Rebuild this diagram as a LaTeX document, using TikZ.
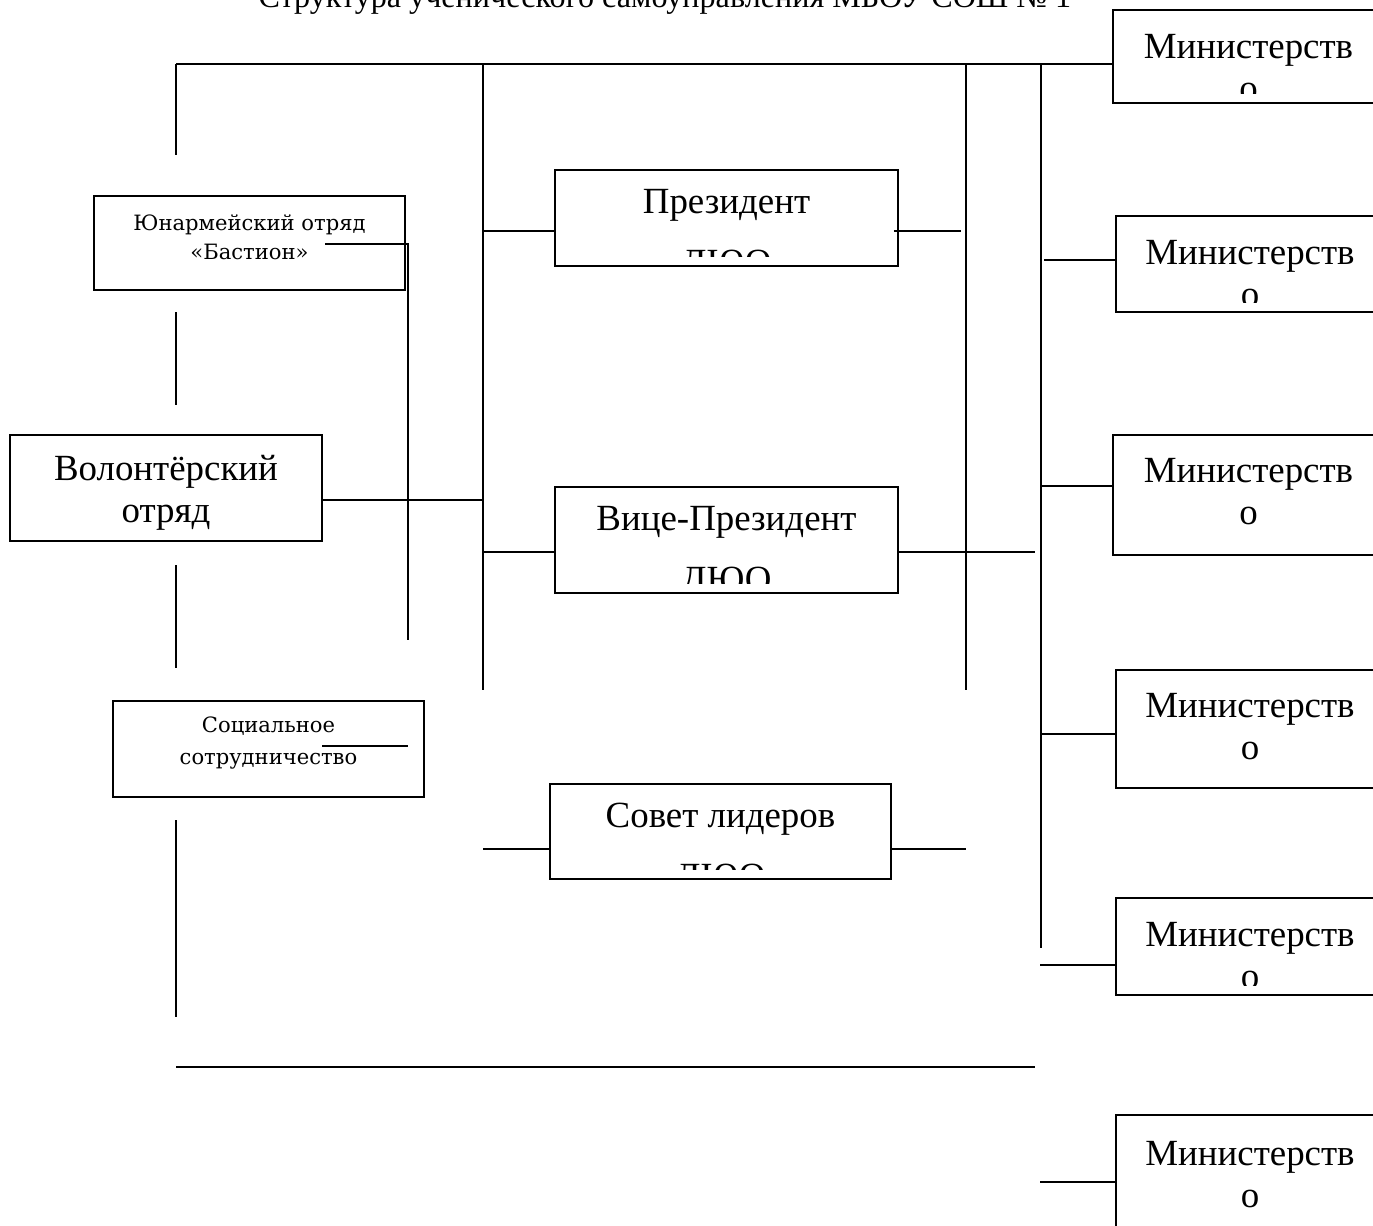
\documentclass[tikz,border=0pt]{standalone}
\usepackage{fontspec}
\setmainfont{Liberation Serif}
\newfontfamily\slabfont{DejaVu Serif}
\usetikzlibrary{positioning,calc}

\begin{document}
\begin{tikzpicture}[x=0.02cm,y=-0.02cm,line width=1pt,
    orgbox/.style={draw,rectangle,inner sep=0pt,line width=1.1pt},
    cliptext/.style n args={4}{path picture={
        \clip ([yshift=0.2cm]path picture bounding box.south west) rectangle (path picture bounding box.north east);
        \node[anchor=north,align=center,inner sep=0pt,draw=none,minimum width=0pt,minimum height=0pt,
              font={\fontsize{21}{#2}\selectfont}] (#3)
            at ([yshift=-#4]path picture bounding box.north) {#1};}}]
    \clip (0,0) rectangle (1373,1225);

    % Title (cut at the top)
    \node[anchor=base,font={\fontsize{18.3}{22}\selectfont}] (title) at (665,7)
        {Структура ученического самоуправления МБОУ СОШ № 1};

    % Left column
    \node[orgbox,minimum width=6.22cm,minimum height=1.88cm] (yun) at (249.5,243) {};
    \node[align=center,font={\slabfont\fontsize{12}{16.5}\selectfont}] (yuntxt) at (249.5,237)
        {Юнармейский отряд\\«Бастион»};
    \node[orgbox,minimum width=6.24cm,minimum height=2.12cm] (vol) at (166,488) {};
    \node[align=center,font={\fontsize{21}{24}\selectfont}] (voltxt) at (166,493)
        {Волонтёрский\\отряд};
    \node[orgbox,minimum width=6.22cm,minimum height=1.92cm] (soc) at (268.5,749) {};
    \node[align=center,font={\slabfont\fontsize{12}{18}\selectfont}] (soctxt) at (268.5,743)
        {Социальное\\сотрудничество};

    % Middle column
    \node[orgbox,minimum width=6.86cm,minimum height=1.92cm,
          cliptext={Президент\\ДЮО}{35}{prestxt}{0.36cm}] (pres) at (726.5,218) {};
    \node[orgbox,minimum width=6.86cm,minimum height=2.12cm,
          cliptext={Вице-Президент\\ДЮО}{35}{vicetxt}{0.36cm}] (vice) at (726.5,540) {};
    \node[orgbox,minimum width=6.82cm,minimum height=1.9cm,
          cliptext={Совет лидеров\\ДЮО}{35}{sovettxt}{0.36cm}] (sovet) at (720.5,831.5) {};

    % Ministries (right edge cut)
    \node[orgbox,minimum width=5.42cm,minimum height=1.86cm,
          cliptext={Министерств\\о}{24}{min1txt}{0.47cm}] (min1) at (1248.5,56.5) {};
    \node[orgbox,minimum width=5.36cm,minimum height=1.92cm,
          cliptext={Министерств\\о}{24}{min2txt}{0.47cm}] (min2) at (1250,264) {};
    \node[orgbox,minimum width=5.42cm,minimum height=2.4cm,
          cliptext={Министерств\\о}{24}{min3txt}{0.45cm}] (min3) at (1248.5,495) {};
    \node[orgbox,minimum width=5.36cm,minimum height=2.36cm,
          cliptext={Министерств\\о}{24}{min4txt}{0.45cm}] (min4) at (1250,729) {};
    \node[orgbox,minimum width=5.36cm,minimum height=1.94cm,
          cliptext={Министерств\\о}{24}{min5txt}{0.47cm}] (min5) at (1250,946.5) {};
    \node[orgbox,minimum width=5.36cm,minimum height=2.9cm,
          cliptext={Министерств\\о}{24}{min6txt}{0.5cm}] (min6) at (1250,1187.5) {};

    % Trunk lines
    \coordinate (tl) at (176,64);
    \coordinate (ta) at (483,64);
    \coordinate (tb) at (966,64);
    \coordinate (tc) at (1041,64);
    \coordinate (ba) at (483,690);
    \coordinate (bb) at (966,690);
    \coordinate (bc) at (1041,948);
    \draw (tl) -- (tl -| min1.west);
    \draw (ta) -- (ba);
    \draw (tb) -- (bb);
    \draw (tc) -- (bc);

    % Left dashes
    \coordinate (l1) at (176,155);
    \coordinate (l2a) at (176,312);
    \coordinate (l2b) at (176,405);
    \coordinate (l3a) at (176,565);
    \coordinate (l3b) at (176,668);
    \coordinate (l4a) at (176,820);
    \coordinate (l4b) at (176,1017);
    \draw (tl) -- (l1);
    \draw (l2a) -- (l2b);
    \draw (l3a) -- (l3b);
    \draw (l4a) -- (l4b);

    % Stubs from the small boxes
    \coordinate (ys) at (325,244);
    \coordinate (yc) at (408,244);
    \coordinate (ye) at (408,640);
    \draw (ys) -- (yc) -- (ye);
    \coordinate (ss) at (322,746);
    \coordinate (se) at (408,746);
    \draw (ss) -- (se);

    % Links to the middle boxes
    \coordinate (va) at (483,500);
    \draw (vol.east |- va) -- (va);
    \coordinate (pa) at (483,231);
    \coordinate (pb) at (961,231);
    \draw (pa) -- (pa -| pres.west);
    \draw ([xshift=-0.1cm]pres.east |- pb) -- (pb);
    \coordinate (vca) at (483,552);
    \coordinate (vcb) at (1035,552);
    \draw (vca) -- (vca -| vice.west);
    \draw (vice.east |- vcb) -- (vcb);
    \coordinate (sa) at (483,849);
    \coordinate (sb) at (966,849);
    \draw (sa) -- (sa -| sovet.west);
    \draw (sovet.east |- sb) -- (sb);

    % Links to the ministries
    \coordinate (m2) at (1044,260);
    \coordinate (m3) at (1042,486);
    \coordinate (m4) at (1041,734);
    \coordinate (m5) at (1040,965);
    \coordinate (m6) at (1040,1182);
    \draw (m2) -- (m2 -| min2.west);
    \draw (m3) -- (m3 -| min3.west);
    \draw (m4) -- (m4 -| min4.west);
    \draw (m5) -- (m5 -| min5.west);
    \draw (m6) -- (m6 -| min6.west);

    % Bottom line
    \coordinate (bl) at (176,1067);
    \coordinate (br) at (1035,1067);
    \draw (bl) -- (br);
\end{tikzpicture}
\end{document}
